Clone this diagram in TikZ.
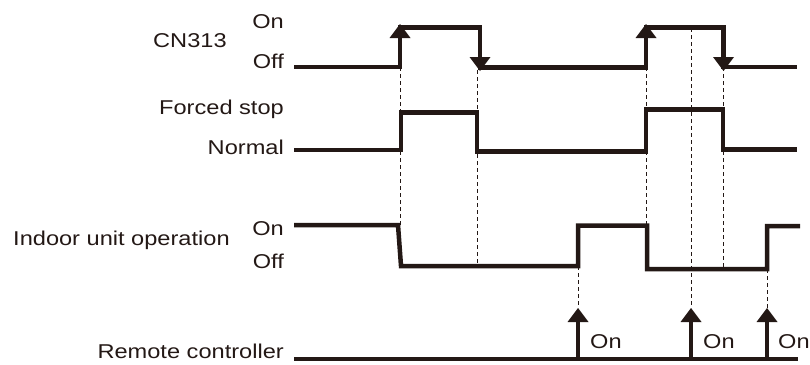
\documentclass[tikz,border=0pt]{standalone}
\usepackage{fontspec}
\setmainfont{Liberation Sans}[FakeStretch=1.18]
\definecolor{ink}{RGB}{35,24,21}
\begin{document}
\begin{tikzpicture}[x=1pt,y=-1pt,
 sig/.style={draw=ink, line width=4.5pt, line join=miter},
 dsh/.style={draw=ink, line width=1pt, dash pattern=on 4pt off 3pt},
 stem/.style={draw=ink, line width=4.5pt},
 lbl/.style={inner sep=0pt, text=ink, font=\fontsize{20}{24}\selectfont}]
\newcommand{\uphead}[2]{\fill[ink] (#1,#2) -- ++(-10.5,14) -- ++(21,0) -- cycle;}
\newcommand{\downhead}[2]{\fill[ink] (#1,#2) -- ++(-10.5,-14) -- ++(21,0) -- cycle;}
\useasboundingbox (0,0) rectangle (810,364);
% dashed guide lines
\draw[dsh] (400,67) -- (400,225);
\draw[dsh] (477,70) -- (477,266);
\draw[dsh] (646,67) -- (646,225);
\draw[dsh] (691,28) -- (691,308);
\draw[dsh] (723.5,67) -- (723.5,269);
\draw[dsh] (578,266) -- (578,308);
\draw[dsh] (767,269) -- (767,308);
% CN313
\draw[sig] (294,67) -- (400,67) -- (400,27.5) -- (480,27.5) -- (480,67.5) -- (646,67.5) -- (646,27.5) -- (723.5,27.5) -- (723.5,67) -- (797,67);
\uphead{400}{24}
\downhead{480}{71}
\uphead{646}{24}
\downhead{723.5}{71}
% Forced stop
\draw[sig] (294,150) -- (401,150) -- (401,112.5) -- (477,112.5) -- (477,151.5) -- (646,151.5) -- (646,109.5) -- (723,109.5) -- (723,149.5) -- (797,149.5);
% Indoor unit operation
\draw[sig] (294,225) -- (398,225) -- (401,266) -- (578,266) -- (578,225.5) -- (647,225.5) -- (647,269) -- (767,269) -- (767,226) -- (800,226);
% Remote controller
\draw[sig] (294,359) -- (798,359);
\draw[stem] (578,359) -- (578,318);
\draw[stem] (691,359) -- (691,318);
\draw[stem] (767,359) -- (767,318);
\uphead{578}{308}
\uphead{691}{308}
\uphead{767}{308}
% labels
\node[lbl, anchor=base east] (cnon) at (284,28) {On};
\node[lbl, anchor=base west] (cn) at (153,47) {CN313};
\node[lbl, anchor=base east] (cnoff) at (284,68) {Off};
\node[lbl, anchor=base east] (fs) at (284,114) {Forced stop};
\node[lbl, anchor=base east] (nm) at (284,154) {Normal};
\node[lbl, anchor=base west] (iu) at (13,245) {Indoor unit operation};
\node[lbl, anchor=base east] (iuon) at (284,235) {On};
\node[lbl, anchor=base east] (iuoff) at (284,268) {Off};
\node[lbl, anchor=base east] (rc) at (284,358) {Remote controller};
\node[lbl, anchor=base west] (on1) at (590,348) {On};
\node[lbl, anchor=base west] (on2) at (703,348) {On};
\node[lbl, anchor=base west] (on3) at (778,348) {On};
\end{tikzpicture}
\end{document}
